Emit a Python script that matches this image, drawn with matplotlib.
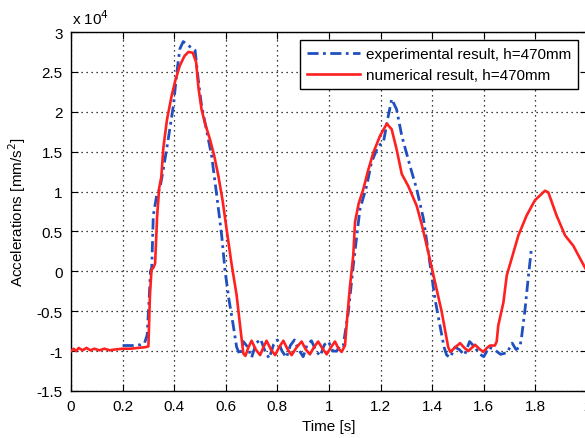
import matplotlib
matplotlib.use("Agg")
import matplotlib.pyplot as plt

plt.rcParams['font.family'] = ['Liberation Sans', 'DejaVu Sans']

# values in units of 1e4 mm/s^2
red_t = [0.000, 0.010, 0.020, 0.030, 0.045, 0.060, 0.075, 0.090, 0.110, 0.130,
         0.150, 0.170, 0.200, 0.230, 0.260, 0.290, 0.300, 0.306, 0.312, 0.320,
         0.326, 0.334, 0.342, 0.350, 0.358, 0.372, 0.390, 0.405, 0.422, 0.440,
         0.455, 0.472, 0.485, 0.494, 0.506, 0.520, 0.539, 0.555, 0.571, 0.588,
         0.603, 0.622, 0.642, 0.656, 0.668, 0.676, 0.688, 0.700, 0.716, 0.733,
         0.746, 0.758, 0.775, 0.791, 0.807, 0.823, 0.840, 0.855, 0.875, 0.894,
         0.910, 0.926, 0.942, 0.958, 0.975, 0.991, 1.008, 1.023, 1.037, 1.049,
         1.062, 1.070, 1.081, 1.094, 1.101, 1.115, 1.133, 1.152, 1.172, 1.198,
         1.224, 1.243, 1.262, 1.282, 1.307, 1.340, 1.360, 1.379, 1.405, 1.437,
         1.462, 1.470, 1.490, 1.508, 1.525, 1.540, 1.566, 1.582, 1.598, 1.612,
         1.624, 1.643, 1.650, 1.656, 1.676, 1.689, 1.708, 1.734, 1.766, 1.798,
         1.837, 1.850, 1.882, 1.915, 1.947, 1.970, 2.000]
red_y = [-1.00, -0.97, -1.00, -0.96, -0.99, -0.96, -0.99, -0.97, -0.99, -0.97,
         -0.99, -0.98, -0.97, -0.97, -0.96, -0.95, -0.94, -0.30, 0.02, 0.05,
         0.10, 0.70, 1.05, 1.18, 1.55, 1.90, 2.20, 2.40, 2.58, 2.70,
         2.75, 2.74, 2.62, 2.30, 2.03, 1.85, 1.65, 1.45, 1.20, 0.88,
         0.53, 0.10, -0.30, -0.70, -1.03, -1.06, -0.95, -0.87, -0.98, -1.05,
         -0.95, -0.87, -0.98, -1.05, -0.95, -0.87, -0.98, -1.05, -0.95, -0.88,
         -0.98, -1.04, -0.95, -0.88, -0.97, -1.04, -0.95, -0.88, -0.97, -1.01,
         -0.93, -0.60, -0.20, 0.20, 0.62, 0.85, 1.03, 1.27, 1.49, 1.70,
         1.85, 1.78, 1.53, 1.22, 1.07, 0.82, 0.58, 0.32, -0.05, -0.51,
         -0.95, -1.01, -0.95, -0.90, -0.96, -1.00, -0.92, -0.97, -1.01, -0.96,
         -0.93, -0.93, -0.88, -0.68, -0.39, -0.05, 0.16, 0.45, 0.70, 0.89,
         1.01, 0.99, 0.70, 0.45, 0.32, 0.18, 0.00]

blue_t = [0.200, 0.240, 0.270, 0.285, 0.295, 0.302, 0.308, 0.313, 0.319, 0.332,
          0.345, 0.358, 0.377, 0.397, 0.410, 0.422, 0.435, 0.455, 0.481, 0.493,
          0.505, 0.519, 0.545, 0.565, 0.584, 0.597, 0.612, 0.629, 0.642, 0.655,
          0.668, 0.685, 0.700, 0.718, 0.735, 0.752, 0.768, 0.785, 0.800, 0.818,
          0.835, 0.850, 0.866, 0.882, 0.900, 0.915, 0.932, 0.950, 0.966, 0.982,
          0.998, 1.015, 1.030, 1.045, 1.055, 1.075, 1.094, 1.120, 1.146, 1.165,
          1.191, 1.211, 1.230, 1.243, 1.262, 1.282, 1.314, 1.340, 1.366, 1.385,
          1.411, 1.430, 1.446, 1.456, 1.470, 1.488, 1.505, 1.525, 1.545, 1.565,
          1.585, 1.600, 1.620, 1.640, 1.665, 1.690, 1.710, 1.725, 1.740, 1.747,
          1.760, 1.772, 1.785]
blue_y = [-0.93, -0.93, -0.92, -0.90, -0.80, -0.40, 0.00, 0.05, 0.70, 0.95,
          1.05, 1.28, 1.66, 2.08, 2.49, 2.79, 2.88, 2.83, 2.77, 2.41,
          2.10, 1.87, 1.45, 0.95, 0.45, 0.01, -0.35, -0.68, -0.95, -1.05,
          -0.88, -0.95, -1.08, -0.90, -0.85, -1.00, -1.09, -0.92, -0.86, -1.00,
          -1.08, -0.93, -0.86, -0.98, -1.07, -0.92, -0.87, -1.00, -1.06, -0.92,
          -0.88, -1.00, -1.00, -0.92, -0.93, -0.51, 0.07, 0.78, 1.07, 1.37,
          1.57, 1.62, 1.95, 2.16, 2.03, 1.70, 1.32, 1.03, 0.66, 0.24,
          -0.35, -0.68, -0.95, -1.05, -1.08, -0.95, -0.98, -1.05, -0.88, -0.95,
          -1.04, -1.07, -0.95, -0.98, -1.04, -1.02, -0.90, -0.98, -0.95, -0.81,
          -0.47, -0.09, 0.30]

x_ticks = [0, 0.2, 0.4, 0.6, 0.8, 1, 1.2, 1.4, 1.6, 1.8, 2]
x_labels = ['0', '0.2', '0.4', '0.6', '0.8', '1', '1.2', '1.4', '1.6', '1.8', '2']
y_ticks = [-1.5, -1, -0.5, 0, 0.5, 1, 1.5, 2, 2.5, 3]
y_labels = ['-1.5', '-1', '-0.5', '0', '0.5', '1', '1.5', '2', '2.5', '3']

fig = plt.figure(figsize=(5.85, 4.39), dpi=100)
ax = fig.add_axes([71/585, 47/439, 516/585, 359/439])

ax.plot(blue_t, blue_y, color='#2050c0', lw=2.0, linestyle=(0, (4, 1.6, 1, 1.6)),
        label='experimental result, h=470mm', zorder=3)
ax.plot(red_t, red_y, color='#ff2020', lw=1.9, label='numerical result, h=470mm', zorder=4)

ax.set_xlim(0, 2)
ax.set_ylim(-1.5, 3)
ax.set_xticks(x_ticks)
ax.set_xticklabels(x_labels)
ax.set_yticks(y_ticks)
ax.set_yticklabels(y_labels)
ax.tick_params(direction='in', top=True, right=True, length=5, width=0.8,
               labelsize=11, pad=6)
ax.grid(True, color='black', linestyle=(0, (1, 3)), linewidth=0.9)
for s in ax.spines.values():
    s.set_linewidth(1.0)

ax.set_xlabel('Time [s]', fontsize=11, labelpad=4)
ax.set_ylabel('Accelerations [mm/s$^2$]', fontsize=11, labelpad=6)
fig.text(72/585, 1 - 25/439, r'x 10$^4$', fontsize=11, ha='left', va='baseline')

leg = ax.legend(loc='upper right', bbox_to_anchor=(0.983, 0.977), fontsize=11,
                frameon=True, fancybox=False, edgecolor='black', framealpha=1,
                handlelength=3.5, handletextpad=0.4, borderpad=0.45,
                labelspacing=0.45, borderaxespad=0)
leg.get_frame().set_linewidth(1.0)

fig.savefig('out.png', dpi=100)
